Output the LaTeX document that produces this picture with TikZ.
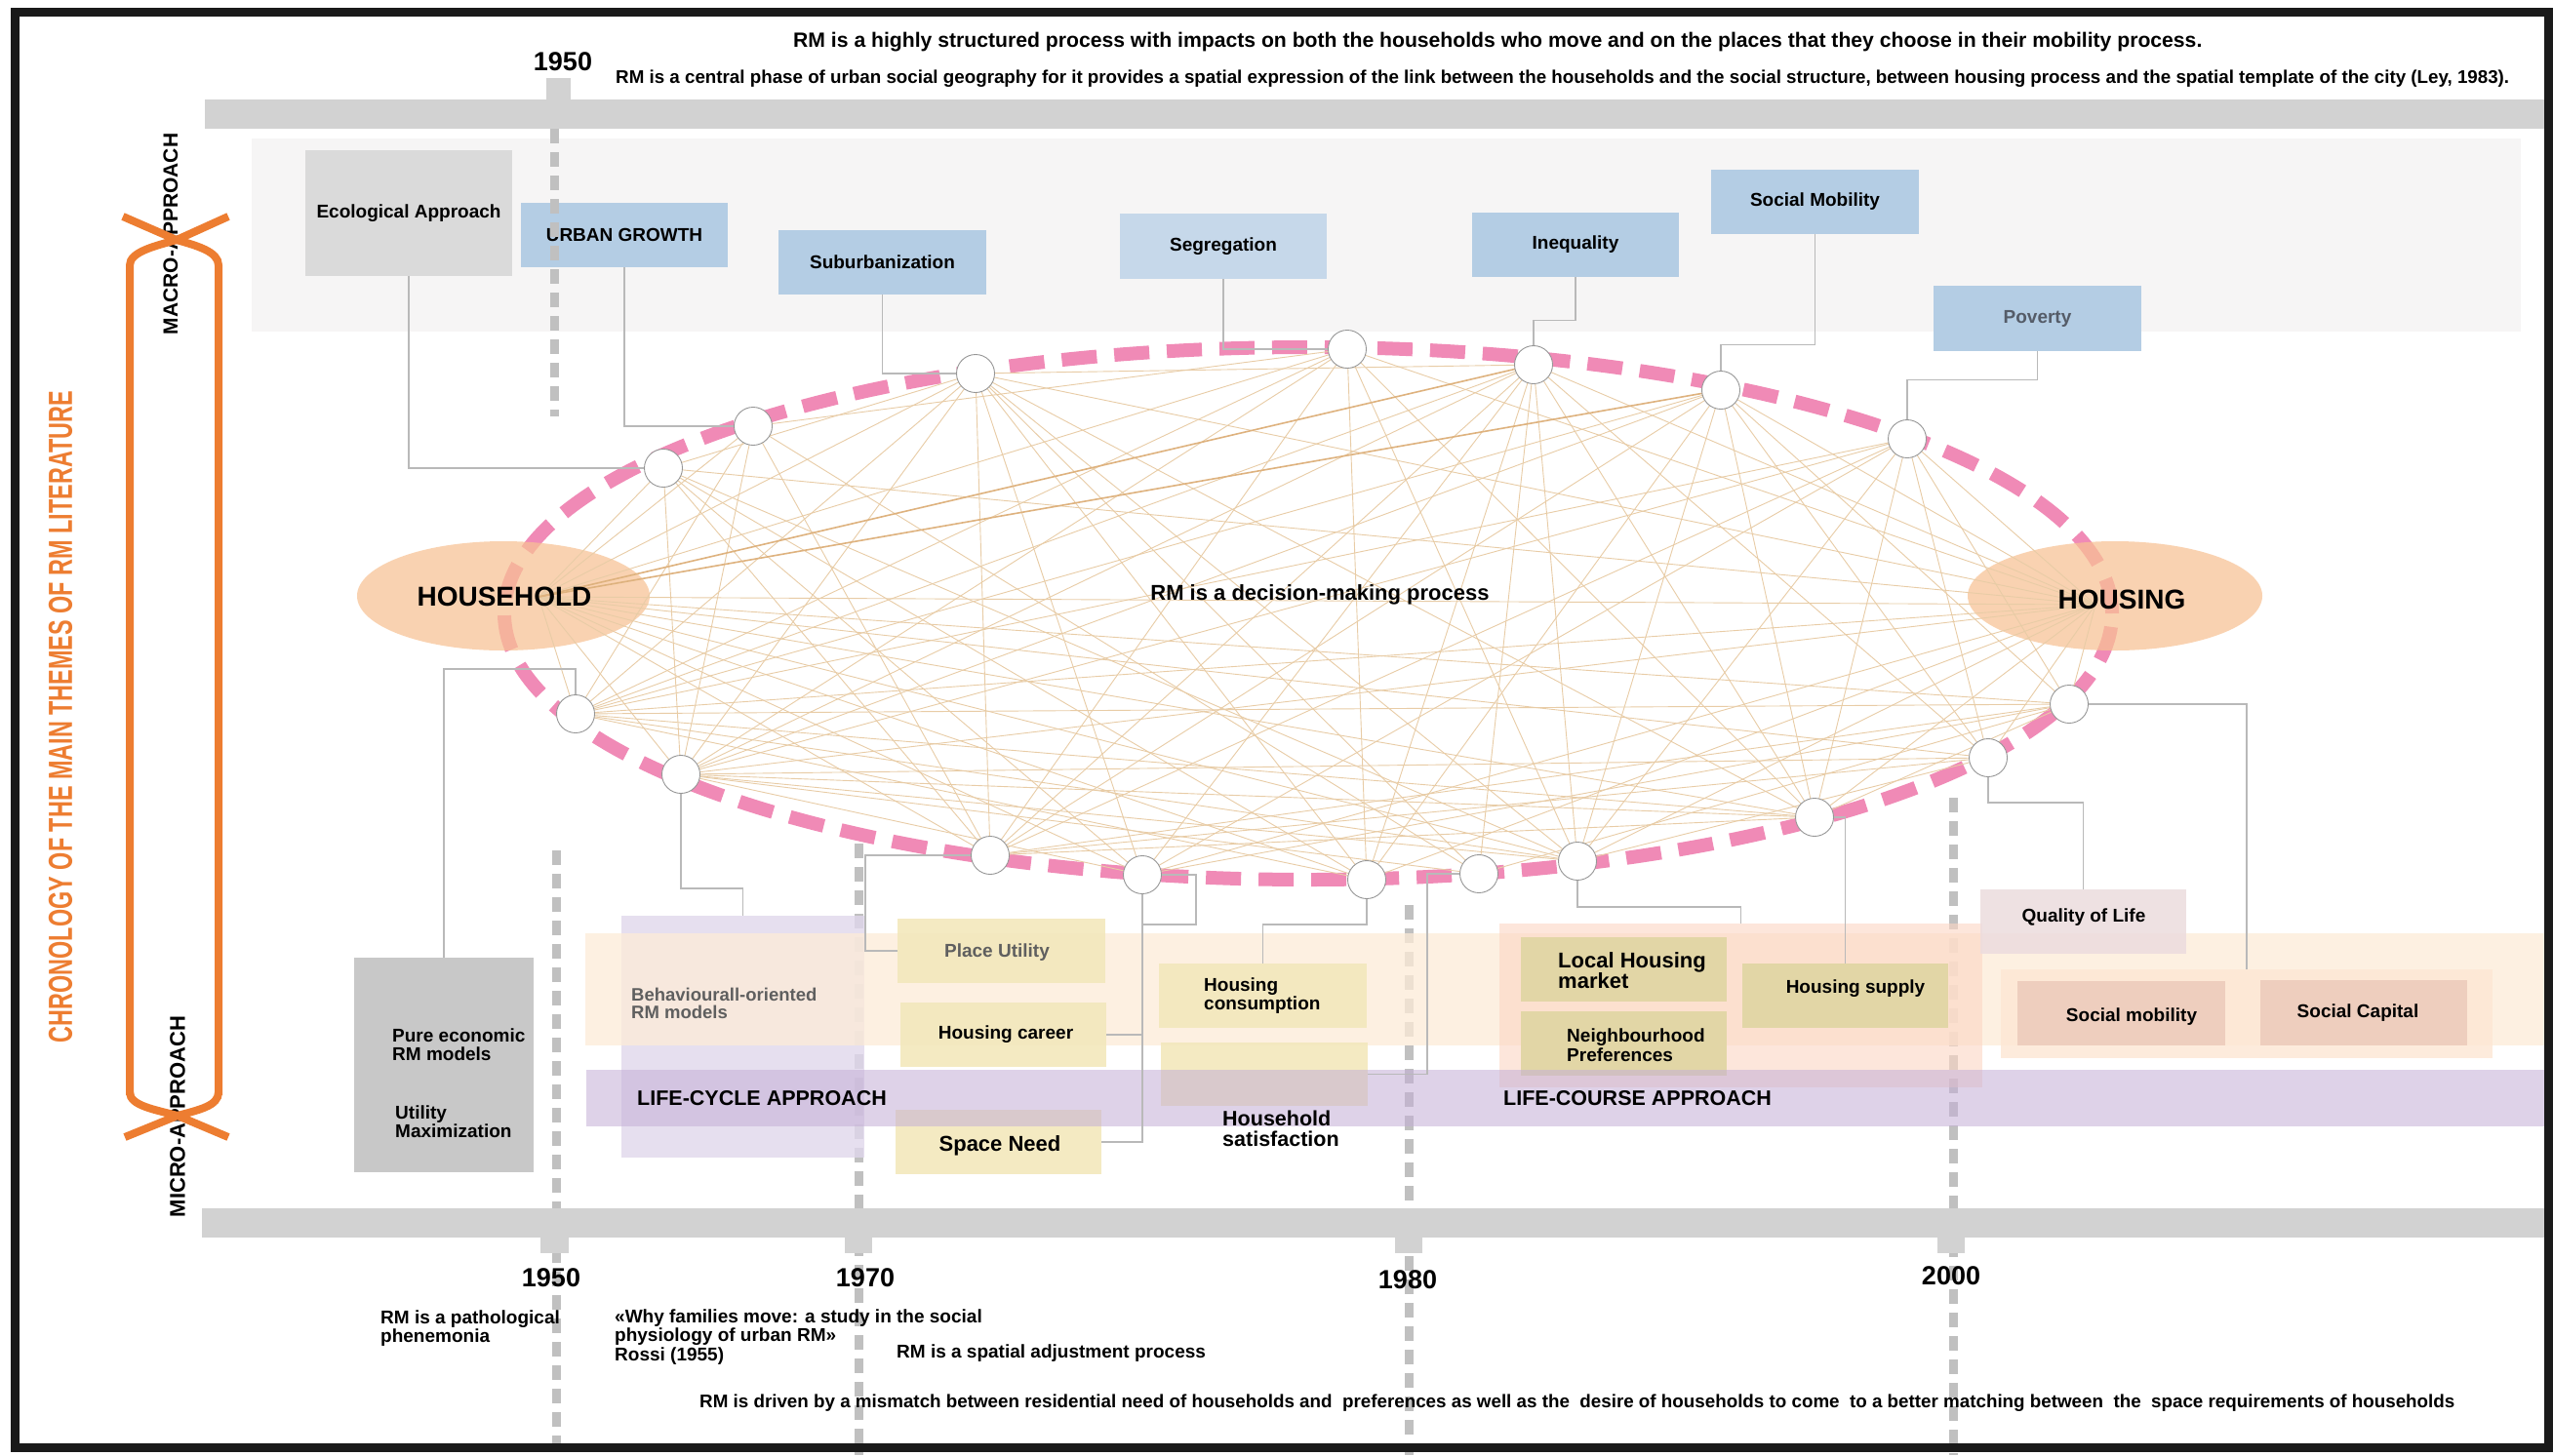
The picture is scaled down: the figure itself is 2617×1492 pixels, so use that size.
\documentclass[tikz,border=0pt]{standalone}
\usepackage{fontspec}
\setmainfont{Liberation Sans}
\usepackage{graphicx}
\usetikzlibrary{calc}
\newcommand\myfs[2]{\fontsize{#1}{#2}\selectfont}
\definecolor{pinkd}{RGB}{240,138,182}
\definecolor{orangeA}{RGB}{237,125,49}
\definecolor{barg}{RGB}{210,210,210}
\definecolor{dashg}{RGB}{192,192,192}
\definecolor{macrobg}{RGB}{246,245,245}
\definecolor{blueA}{RGB}{180,205,228}
\definecolor{blueB}{RGB}{198,216,234}
\definecolor{ecog}{RGB}{218,218,218}
\definecolor{pureg}{RGB}{200,200,200}
\definecolor{peachband}{RGB}{253,236,216}
\definecolor{lavbox}{RGB}{224,215,236}
\definecolor{purpband}{RGB}{196,174,214}
\definecolor{yelbox}{RGB}{243,232,188}
\definecolor{olivebox}{RGB}{226,214,166}
\definecolor{salmongrp}{RGB}{252,214,196}
\definecolor{qolbox}{RGB}{236,220,222}
\definecolor{socgrp}{RGB}{253,230,212}
\definecolor{socbox}{RGB}{238,206,190}
\definecolor{hhfill}{RGB}{248,194,148}
\definecolor{edgec}{RGB}{232,204,166}
\definecolor{edged}{RGB}{222,178,126}
\definecolor{conng}{RGB}{185,185,185}
\definecolor{nodeg}{RGB}{150,150,150}
\definecolor{framec}{RGB}{26,26,26}
\definecolor{greytext}{RGB}{95,95,95}
\definecolor{povtext}{RGB}{85,92,104}
\begin{document}
\begin{tikzpicture}[x=1pt,y=-1pt,
  box/.style={rectangle, inner sep=0pt, draw=none, align=center, font=\bfseries\myfs{19}{21}},
  lab/.style={inner sep=0pt, align=left, font=\bfseries\myfs{19}{19.5}},
  year/.style={inner sep=0pt, font=\bfseries\myfs{27}{27}},
  conn/.style={draw=conng, line width=1.4},
  edge/.style={draw=edgec, line width=0.9},
  edgeb/.style={draw=edged, line width=1.6},
  wnode/.style={circle, minimum size=39pt, inner sep=0pt, fill=white, draw=nodeg, line width=0.9},
  vdash/.style={draw=dashg, line width=9, dash pattern=on 15pt off 9pt},
  brace/.style={draw=orangeA, line width=8}]
\useasboundingbox (0,0) rectangle (2617,1492);
\fill[white] (0,0) rectangle (2617,1492);

% macro background
\fill[macrobg] (258,142) rectangle (2584,340);

% top boxes
\node[box, fill=ecog, minimum width=212pt, minimum height=129pt] (eco) at (419,218.5) {Ecological Approach};
\node[box, fill=blueA, minimum width=212pt, minimum height=66pt] (urban) at (640,241) {URBAN GROWTH};
\node[box, fill=blueA, minimum width=213pt, minimum height=66pt] (suburb) at (904.5,269) {Suburbanization};
\node[box, fill=blueB, minimum width=212pt, minimum height=67pt] (segreg) at (1254,252.5) {Segregation};
\node[box, fill=blueA, minimum width=212pt, minimum height=66pt] (ineq) at (1615,251) {Inequality};
\node[box, fill=blueA, minimum width=213pt, minimum height=66pt] (socmob) at (1860.5,207) {Social Mobility};
\node[box, fill=blueA, text=povtext, minimum width=213pt, minimum height=67pt] (poverty) at (2088.5,326.5) {Poverty};

% timeline bars
\fill[barg] (210,102) rectangle (2612,132);
\fill[barg] (560,80) rectangle (585,102);
\draw[vdash] (568,132) -- (568,427);
\draw[vdash] (570,872) -- (570,1492);
\draw[vdash] (880,865) -- (880,1492);
\draw[vdash] (1444,928) -- (1444,1492);
\draw[vdash] (2002,818) -- (2002,1492);
\fill[barg] (207,1239) rectangle (2612,1269);
\fill[barg] (554,1269) rectangle (583,1285);
\fill[barg] (866,1269) rectangle (894,1285);
\fill[barg] (1430,1269) rectangle (1458,1285);
\fill[barg] (1986,1269) rectangle (2014,1285);

% bottom boxes
\node[box, fill=pureg, minimum width=184pt, minimum height=220pt] (pure) at (455,1092) {};
\node[box, fill=lavbox, fill opacity=0.8, minimum width=249pt, minimum height=248pt] (behav) at (761.5,1063) {};
\node[box, fill=peachband, fill opacity=0.75, minimum width=2017pt, minimum height=115pt] (peach) at (1608.5,1014.5) {};
\node[box, fill=salmongrp, fill opacity=0.6, minimum width=495pt, minimum height=168pt] (lhgroup) at (1784.5,1031) {};
\node[box, fill=socgrp, fill opacity=0.8, minimum width=504pt, minimum height=91pt] (socgrp) at (2303,1039.5) {};
\node[box, fill=qolbox, fill opacity=0.85, minimum width=211pt, minimum height=66pt] (qol) at (2135.5,945) {};
\node[box, fill=yelbox, fill opacity=0.9, minimum width=213pt, minimum height=66pt] (place) at (1026.5,975) {};
\node[box, fill=yelbox, fill opacity=0.9, minimum width=211pt, minimum height=66pt] (career) at (1028.5,1061) {};
\node[box, fill=yelbox, fill opacity=0.9, minimum width=211pt, minimum height=66pt] (space) at (1023.5,1171) {};
\node[box, fill=yelbox, fill opacity=0.9, minimum width=213pt, minimum height=66pt] (cons) at (1294.5,1021) {};
\node[box, fill=yelbox, fill opacity=0.9, minimum width=212pt, minimum height=65pt] (satis) at (1296,1101.5) {};
\node[box, fill=olivebox, minimum width=211pt, minimum height=66pt] (local) at (1664.5,994) {};
\node[box, fill=olivebox, minimum width=211pt, minimum height=66pt] (neigh) at (1664.5,1070) {};
\node[box, fill=olivebox, minimum width=211pt, minimum height=66pt] (supply) at (1891.5,1021) {};
\node[box, fill=socbox, minimum width=213pt, minimum height=66pt] (smob) at (2174.5,1039) {};
\node[box, fill=socbox, minimum width=212pt, minimum height=67pt] (scap) at (2423,1038.5) {};
\node[box, fill=purpband, fill opacity=0.55, minimum width=2016pt, minimum height=58pt] (purple) at (1609,1126) {};

% node positions
\coordinate (p1) at (680,480);
\coordinate (p2) at (772,437);
\coordinate (p3) at (1000,383);
\coordinate (p4) at (1381,358);
\coordinate (p5) at (1572,374);
\coordinate (p6) at (1764,400);
\coordinate (p7) at (1955,450);
\coordinate (p8) at (2121,722);
\coordinate (p9) at (2038,777);
\coordinate (p10) at (1860,838);
\coordinate (p11) at (1617,883);
\coordinate (p12) at (1516,896);
\coordinate (p13) at (1401,902);
\coordinate (p14) at (1171,897);
\coordinate (p15) at (1015,877);
\coordinate (p16) at (698,794);
\coordinate (p17) at (590,732);
\coordinate (pH) at (552,612);
\coordinate (pG) at (2148,620);

% pink dashed ring
\draw[draw=pinkd, line width=14, dash pattern=on 36pt off 18pt] (1341,629) ellipse [x radius=824pt, y radius=273pt];

% household / housing
\fill[hhfill, fill opacity=0.72] (516,611) ellipse [x radius=150pt, y radius=56pt];
\fill[hhfill, fill opacity=0.72] (2168,611) ellipse [x radius=151pt, y radius=56pt];

% network edges
\foreach \a/\b in {H/1,H/2,H/3,H/4,H/8,H/9,H/10,H/11,H/13,H/14,H/15,H/16,H/17,H/G,
  G/1,G/3,G/4,G/5,G/6,G/7,G/8,G/9,G/10,G/11,G/13,G/14,G/16,G/17,
  1/3,1/13,1/14,1/15,1/16,1/11,
  2/4,2/12,2/15,2/16,2/17,
  3/5,3/10,3/11,3/12,3/13,3/14,3/15,3/16,3/17,
  4/10,4/11,4/13,4/15,4/16,4/17,
  5/9,5/10,5/11,5/12,5/13,5/14,5/15,5/16,5/17,
  6/8,6/9,6/10,6/11,6/13,6/15,6/16,6/17,
  7/8,7/9,7/10,7/11,7/14,7/15,7/16,7/17,
  8/10,8/12,8/14,8/15,8/17,
  9/11,9/15,9/16,
  10/15,10/16,10/17,
  11/16,11/17,12/16,13/17,14/16}
  {\draw[edge] (p\a) -- (p\b);}
\draw[edgeb] (pH) -- (p5);
\draw[edgeb] (pH) -- (p6);

% white nodes
\foreach \i in {1,...,17} {\node[wnode] (n\i) at (p\i) {};}

% connectors boxes -> nodes
\draw[conn] (eco.south) |- (n1);
\draw[conn] (urban.south) |- (n2);
\draw[conn] (suburb.south) |- (n3);
\draw[conn] (segreg.south) |- (n4);
\draw[conn] (ineq.south) -- ++(0,44) -| (n5);
\draw[conn] (socmob.south) -- ++(0,113) -| (n6);
\draw[conn] (poverty.south) -- ++(0,29) -| (n7);
\draw[conn] (pure.north) -- ++(0,-296) -| (n17);
\draw[conn] (n16) -- ++(0,117) -| (behav.north);
\draw[conn] (n15) -- (887,877) |- (place.west);
\draw[conn] (n14) |- (career.east);
\draw[conn] (n14) |- (space.east);
\draw[conn] (n14.east) -- (1226,897) -- (1226,948) -- (1171,948);
\draw[conn] (n13) -- ++(0,46) -| (cons.north);
\draw[conn] (n12) -- (1463,896) |- (satis.east);
\draw[conn] (n11) -- ++(0,47) -| (lhgroup.north);
\draw[conn] (n10) -| (supply.north);
\draw[conn] (n9) -- ++(0,46) -| (qol.north);
\draw[conn] (n8) -| (socgrp.north);

% texts: top
\node[inner sep=0pt, anchor=west, font=\bfseries] (t1) at (813,43) {\resizebox{1444pt}{!}{RM is a highly structured process with impacts on both the households who move and on the places that they choose in their mobility process.}};
\node[inner sep=0pt, anchor=west, font=\bfseries] (t2) at (631,81) {\resizebox{1941pt}{!}{RM is a central phase of urban social geography for it provides a spatial expression of the link between the households and the social structure, between housing process and the spatial template of the city (Ley, 1983).}};
\node[year] (y50t) at (577,63) {1950};

% center texts
\node[inner sep=0pt, font=\bfseries\myfs{28}{28}] (hh) at (517,612) {HOUSEHOLD};
\node[inner sep=0pt, font=\bfseries\myfs{28}{28}] (hs) at (2175,615) {HOUSING};
\node[inner sep=0pt, font=\bfseries\myfs{22}{22}] (dm) at (1353,610) {RM is a decision-making process};

% bottom box texts
\node[lab, anchor=west] (pe1) at (402,1071) {Pure economic\\RM models};
\node[lab, anchor=west] (pe2) at (405,1150) {Utility\\Maximization};
\node[lab, anchor=west, text=greytext, font=\bfseries\myfs{18.5}{18.5}] (bt) at (647,1029) {Behaviourall-oriented\\RM models};
\node[inner sep=0pt, anchor=west, font=\bfseries\myfs{21.5}{21.5}] (lca) at (653,1126) {LIFE-CYCLE APPROACH};
\node[inner sep=0pt, anchor=west, font=\bfseries\myfs{21.5}{21.5}] (lco) at (1541,1126) {LIFE-COURSE APPROACH};
\node[lab, text=greytext, anchor=center] (plt) at (1022,977) {Place Utility};
\node[lab, anchor=center] (hct) at (1031,1061) {Housing career};
\node[lab, anchor=center, font=\bfseries\myfs{22}{22}] (snt) at (1025,1175) {Space Need};
\node[lab, anchor=west] (hcons) at (1234,1021) {Housing\\consumption};
\node[lab, anchor=west, font=\bfseries\myfs{21.5}{21.5}] (hsat) at (1253,1157.5) {Household\\satisfaction};
\node[lab, anchor=west, font=\bfseries\myfs{22}{21}] (lhm) at (1597,995.5) {Local Housing\\market};
\node[lab, anchor=west] (nbp) at (1606,1071.5) {Neighbourhood\\Preferences};
\node[lab, anchor=center] (hsup) at (1902,1014) {Housing supply};
\node[lab, anchor=center] (qolt) at (2136,941) {Quality of Life};
\node[lab, anchor=center] (smt) at (2185,1043) {Social mobility};
\node[lab, anchor=center] (sct) at (2417,1039) {Social Capital};

% years
\node[year] (y50) at (565,1310) {1950};
\node[year] (y70) at (887,1310) {1970};
\node[year] (y80) at (1443,1312) {1980};
\node[year] (y00) at (2000,1308) {2000};

% bottom texts
\node[lab, anchor=west] (b1) at (390,1362) {RM is a pathological\\phenemonia};
\node[lab, anchor=west] (b2) at (630,1371) {«Why families move: a study in the social\\physiology of urban RM»\\Rossi (1955)};
\node[lab, anchor=west] (b3) at (919,1388) {RM is a spatial adjustment process};
\node[inner sep=0pt, anchor=west, font=\bfseries] (b4) at (717,1439) {\resizebox{1799pt}{!}{RM is driven by a mismatch between residential need of households and\ \ preferences as well as the\ \ desire of households to come\ \ to a better matching between\ \ the\ \ space requirements of households}};

% side labels and brackets
\node[inner sep=0pt, rotate=90, font=\bfseries\myfs{21}{21}] (macro) at (175,240) {MACRO-APPROACH};
\node[inner sep=0pt, rotate=90, font=\bfseries\myfs{22}{22}] (micro) at (182,1145) {MICRO-APPROACH};
\node[inner sep=0pt, rotate=90, text=orangeA, font=\bfseries] (chron) at (62,735) {\resizebox{668pt}{24pt}{CHRONOLOGY OF THE MAIN THEMES OF RM LITERATURE}};
\draw[brace] (133,1123) -- (133,272) .. controls (133,258) and (160,252) .. (181,246);
\draw[brace] (224,1123) -- (224,272) .. controls (224,258) and (202,252) .. (181,246);
\draw[brace] (126,222) -- (181,246) -- (234,222);
\draw[brace] (133,1120) .. controls (133,1134) and (160,1138) .. (182,1144);
\draw[brace] (224,1120) .. controls (224,1134) and (204,1138) .. (182,1144);
\draw[brace] (128,1166) -- (182,1144) -- (234,1166);

% frame
\draw[framec, line width=9] (15,12) rectangle (2612,1484);
\end{tikzpicture}
\end{document}
